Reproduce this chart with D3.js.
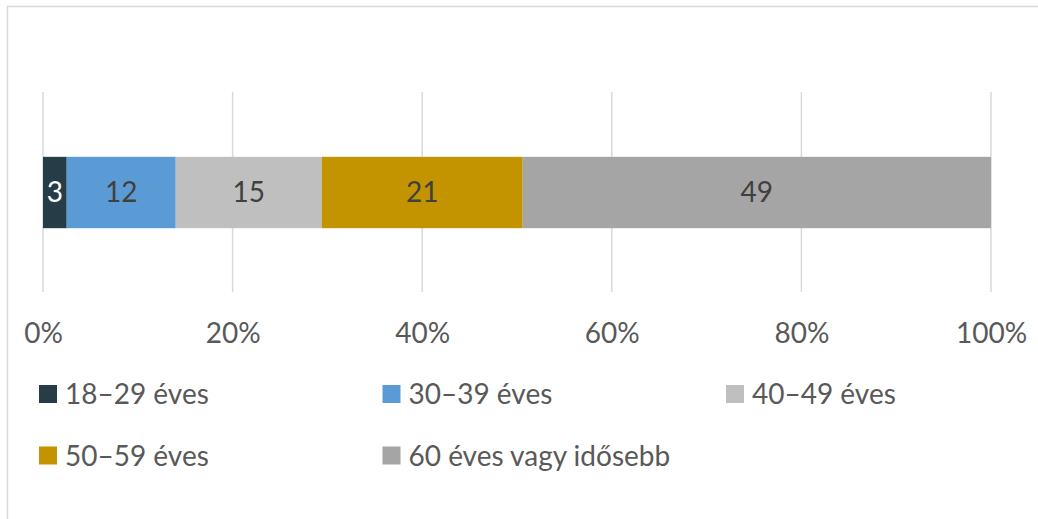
<!DOCTYPE html>
<html>
<head>
<meta charset="utf-8">
<script src="https://cdn.jsdelivr.net/npm/d3@7"></script>
<style>
  body { margin: 0; background: #fff; }
  svg { display: block; font-family: Lato, "Open Sans", sans-serif; }
</style>
</head>
<body>
<svg id="chart" width="1038" height="519"></svg>
<script>
// data (shares in %, labels shown rounded)
const categories = ["18–29 éves", "30–39 éves", "40–49 éves", "50–59 éves", "60 éves vagy idősebb"];
const shares = [2.5, 11.5, 15.4, 21.2, 49.4];
const colors = ["#263D47", "#5B9BD5", "#BFBFBF", "#C49300", "#A5A5A5"];
const tickValues = [0, 20, 40, 60, 80, 100];

const svg = d3.select("#chart");

// chart frame
svg.append("rect")
  .attr("x", 7.5).attr("y", 6.5)
  .attr("width", 1040).attr("height", 520)
  .attr("fill", "none")
  .attr("stroke", "#d9d9d9")
  .attr("stroke-width", 1.5);

const x = d3.scaleLinear().domain([0, 100]).range([43, 991]);
const y = d3.scaleBand().domain(["row"]).range([92, 293]).padding(0.476);

// gridlines
svg.selectAll(".grid")
  .data(tickValues)
  .enter()
  .append("line")
  .attr("class", "grid")
  .attr("x1", d => x(d)).attr("x2", d => x(d))
  .attr("y1", 92).attr("y2", 292)
  .attr("stroke", "#d9d9d9")
  .attr("stroke-width", 1.5);

// stacked segments
let acc = 0;
const segments = shares.map((v, i) => {
  const s = { start: acc, end: acc + v, value: v, color: colors[i], name: categories[i] };
  acc += v;
  return s;
});

svg.selectAll(".seg")
  .data(segments)
  .enter()
  .append("rect")
  .attr("class", "seg")
  .attr("x", d => x(d.start))
  .attr("width", d => x(d.end) - x(d.start))
  .attr("y", y("row"))
  .attr("height", y.bandwidth())
  .attr("fill", d => d.color);

svg.selectAll(".lbl")
  .data(segments)
  .enter()
  .append("text")
  .attr("class", "lbl")
  .attr("x", d => (x(d.start) + x(d.end)) / 2)
  .attr("y", y("row") + y.bandwidth() / 2)
  .attr("dy", "0.35em")
  .attr("text-anchor", "middle")
  .attr("font-size", 28)
  .attr("fill", (d, i) => i === 0 ? "#ffffff" : "#404040")
  .text(d => d3.format(".0f")(d.value));

// axis
const axis = d3.axisBottom(x)
  .tickValues(tickValues)
  .tickSize(0)
  .tickPadding(0)
  .tickFormat(d => d + "%");

const axisG = svg.append("g")
  .attr("transform", "translate(0,323)")
  .call(axis);
axisG.select(".domain").remove();
axisG.selectAll("text")
  .attr("font-family", "Lato, 'Open Sans', sans-serif")
  .attr("font-size", 28)
  .attr("fill", "#595959");

// legend
const legend = svg.selectAll(".leg")
  .data(categories)
  .enter()
  .append("g")
  .attr("class", "leg")
  .attr("transform", (d, i) => `translate(${39 + (i % 3) * 343.5},${385 + Math.floor(i / 3) * 61.5})`);

legend.append("rect")
  .attr("width", 18).attr("height", 18)
  .attr("fill", (d, i) => colors[i]);

legend.append("text")
  .attr("x", 26)
  .attr("y", 19)
  .attr("font-size", 28)
  .attr("fill", "#595959")
  .text(d => d);
</script>
</body>
</html>
